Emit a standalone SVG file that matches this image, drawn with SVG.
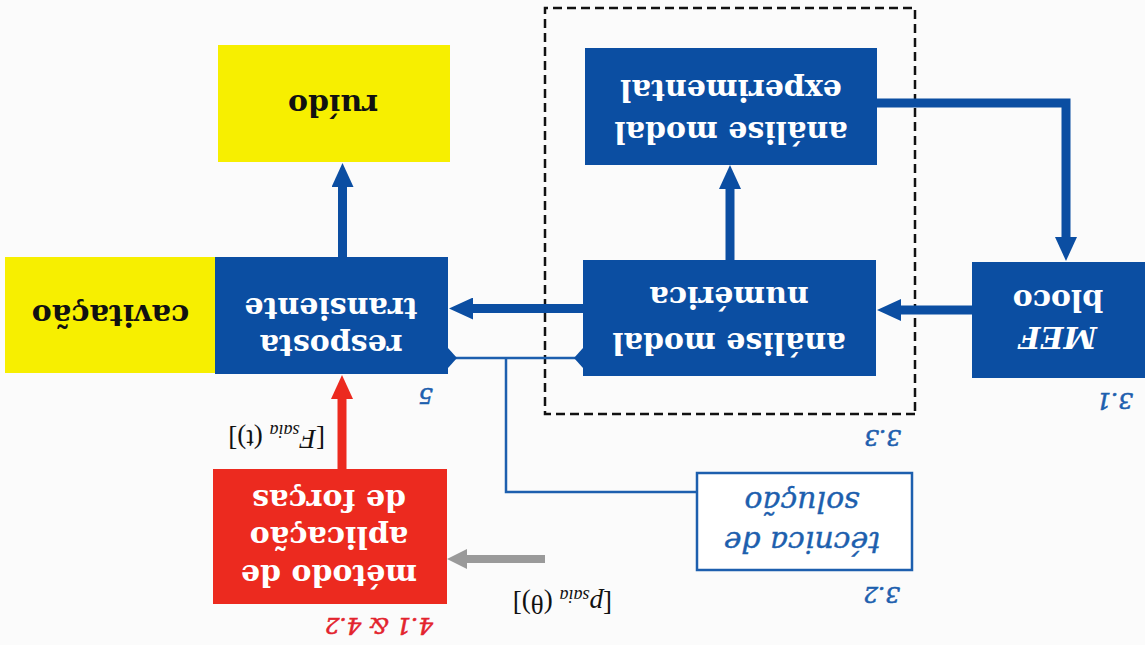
<svg xmlns="http://www.w3.org/2000/svg" width="1145" height="645" viewBox="0 0 1145 645">
  <style>
    .blk { fill: #0b4ea2; }
    .ylw { fill: #f7ef00; }
    .red { fill: #ec2a1f; }
    .lbl { font-family: "DejaVu Serif", "Liberation Serif", serif; font-weight: bold; font-size: 30px; text-anchor: middle; }
    .wt { fill: #ffffff; }
    .bk { fill: #111111; }
    .num { font-family: "DejaVu Serif", "Liberation Serif", serif; font-style: italic; font-size: 23px; fill: #1d5fae; stroke: #1d5fae; stroke-width: 0.6; }
    .sym { font-family: "Liberation Serif", "DejaVu Serif", serif; font-size: 27px; fill: #111111; }
    .thick { stroke: #0b4ea2; stroke-width: 9; fill: none; }
    .thin { stroke: #1d5fae; stroke-width: 2.5; fill: none; }
  </style>
  <defs>
    <marker id="headBlue" viewBox="0 0 24 22" markerWidth="24" markerHeight="22" refX="1" refY="11" orient="auto" markerUnits="userSpaceOnUse">
      <path d="M0,0 L24,11 L0,22 z" fill="#0b4ea2"/>
    </marker>
    <marker id="headRed" viewBox="0 0 24 22" markerWidth="24" markerHeight="22" refX="1" refY="11" orient="auto" markerUnits="userSpaceOnUse">
      <path d="M0,0 L24,11 L0,22 z" fill="#ec2a1f"/>
    </marker>
    <marker id="headGray" viewBox="0 0 20 20" markerWidth="20" markerHeight="20" refX="1" refY="10" orient="auto" markerUnits="userSpaceOnUse">
      <path d="M0,0 L20,10 L0,20 z" fill="#9a9a9a"/>
    </marker>
  </defs>

  <rect x="0" y="0" width="1145" height="645" fill="#fbfbfb"/>

  <!-- the whole chart is printed turned through half a turn -->
  <g transform="rotate(180 572.5 322.5)">

    <!-- group for the modal analysis stage -->
    <rect id="grupo-analise" x="230" y="231" width="370" height="406" fill="none" stroke="#111111" stroke-width="2.5" stroke-dasharray="9 5"/>

    <g id="connectors">
      <line class="thick" x1="802.5" y1="388" x2="802.5" y2="459" marker-end="url(#headBlue)"/>
      <line x1="803" y1="176" x2="803" y2="247" stroke="#ec2a1f" stroke-width="9" marker-end="url(#headRed)"/>
      <line class="thick" x1="415" y1="385" x2="415" y2="457" marker-end="url(#headBlue)"/>
      <polyline class="thick" points="268,542 79,542 79,407" marker-end="url(#headBlue)"/>
      <line class="thick" x1="173" y1="335" x2="245" y2="335" marker-end="url(#headBlue)"/>
      <line class="thick" x1="562" y1="336.5" x2="673" y2="336.5" marker-end="url(#headBlue)"/>
      <line x1="600" y1="86" x2="679" y2="86" stroke="#9a9a9a" stroke-width="8" marker-end="url(#headGray)"/>
      <polyline class="thin" points="448,153 639,153 639,287"/>
      <line class="thin" x1="562" y1="287" x2="697" y2="287"/>
      <polygon points="562,277 571,287 562,297" fill="#0b4ea2"/>
      <polygon points="697,277 688,287 697,297" fill="#0b4ea2"/>
    </g>

    <g id="mef">
      <rect class="blk" x="-5" y="267" width="178" height="116"/>
      <text class="lbl wt" x="87" y="318" font-style="italic" font-size="40">MEF</text>
      <text class="lbl wt" x="87" y="355">bloco</text>
      <text class="num" x="12" y="252">3.1</text>
    </g>

    <g id="analise-numerica">
      <rect class="blk" x="269" y="269" width="293" height="116"/>
      <text class="lbl wt" x="416" y="312">análise modal</text>
      <text class="lbl wt" x="416" y="358">numérica</text>
      <text class="num" x="244" y="215">3.3</text>
    </g>

    <g id="analise-experimental">
      <rect class="blk" x="268" y="480" width="292" height="117"/>
      <text class="lbl wt" x="414" y="523">análise modal</text>
      <text class="lbl wt" x="414" y="565">experimental</text>
    </g>

    <g id="tecnica-solucao">
      <rect x="233" y="75" width="215" height="97" fill="#ffffff" stroke="#1d5fae" stroke-width="2.5"/>
      <text x="343" y="113" font-family="DejaVu Serif, Liberation Serif, serif" font-style="italic" font-size="30" fill="#1d5fae" stroke="#1d5fae" stroke-width="0.4" text-anchor="middle">técnica de</text>
      <text x="343" y="153" font-family="DejaVu Serif, Liberation Serif, serif" font-style="italic" font-size="30" fill="#1d5fae" stroke="#1d5fae" stroke-width="0.4" text-anchor="middle">solução</text>
      <text class="num" x="245" y="58">3.2</text>
      <text class="sym" x="533" y="50">[<tspan font-style="italic">p</tspan><tspan font-style="italic" font-size="18" dy="5">saia</tspan><tspan dy="-5"> (θ)]</tspan></text>
    </g>

    <g id="resposta-transiente">
      <rect class="blk" x="697" y="271" width="233" height="117"/>
      <text class="lbl wt" x="814" y="310">resposta</text>
      <text class="lbl wt" x="814" y="347">transiente</text>
      <text class="num" x="712" y="257">5</text>
      <text class="sym" x="820" y="215">[<tspan font-style="italic">F</tspan><tspan font-style="italic" font-size="18" dy="5">saia</tspan><tspan dy="-5"> (t)]</tspan></text>
    </g>

    <g id="cavitacao">
      <rect class="ylw" x="930" y="272" width="210" height="116"/>
      <text class="lbl bk" x="1034.5" y="340">cavitação</text>
    </g>

    <g id="ruido">
      <rect class="ylw" x="695" y="483" width="232" height="117"/>
      <text class="lbl bk" x="812" y="550">ruído</text>
    </g>

    <g id="metodo-forcas">
      <rect class="red" x="698" y="41" width="234" height="135"/>
      <text class="lbl wt" x="816" y="80">método de</text>
      <text class="lbl wt" x="816" y="118">aplicação</text>
      <text class="lbl wt" x="816" y="155">de forças</text>
      <text class="num" x="712" y="27" style="fill:#e3232d;stroke:#e3232d">4.1 &amp; 4.2</text>
    </g>
  </g>
</svg>
